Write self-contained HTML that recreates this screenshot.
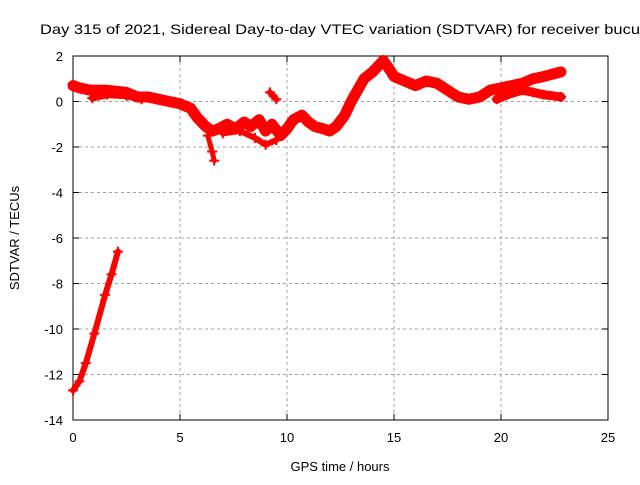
<!DOCTYPE html>
<html><head><meta charset="utf-8"><style>
body{margin:0;background:#fff;width:640px;height:480px;overflow:hidden}
svg{font-family:"Liberation Sans",sans-serif;font-size:13px}
</style></head><body>
<svg id="chart" width="640" height="480">
<text x="40" y="34" font-size="14" textLength="600" lengthAdjust="spacingAndGlyphs">Day 315 of 2021, Sidereal Day-to-day VTEC variation (SDTVAR) for receiver bucu</text>
<text x="340" y="471" text-anchor="middle">GPS time / hours</text>
<text transform="translate(19,238) rotate(-90)" text-anchor="middle">SDTVAR / TECUs</text>
<g id="grid"></g><g id="axes"></g><g id="marks"></g>
</svg>
<script>
const xTicks=[0,5,10,15,20,25];
const yTicks=[2,0,-2,-4,-6,-8,-10,-12,-14];
const trackSteepX=[0,0.3,0.6,1.0,1.5,1.8,2.1];
const trackSteepY=[-12.7,-12.3,-11.5,-10.2,-8.5,-7.6,-6.6];
const trackMainX=[0,0.3,0.8,1.5,2,2.5,3,3.5,4,4.5,5,5.5,5.8,6.2,6.5,6.8,7.2,7.6,8,8.3,8.7,9,9.3,9.7,10,10.3,10.7,11,11.3,11.7,12,12.3,12.7,13,13.3,13.6,14,14.3,14.5,14.8,15,15.5,16,16.5,17,17.5,18,18.5,19,19.5,20,20.5,21,21.5,22,22.8];
const trackMainY=[0.7,0.6,0.5,0.5,0.45,0.4,0.2,0.2,0.1,0,-0.1,-0.3,-0.7,-1.1,-1.3,-1.2,-1.0,-1.2,-0.9,-1.1,-0.8,-1.3,-1.0,-1.5,-1.2,-0.8,-0.6,-0.9,-1.1,-1.2,-1.3,-1.1,-0.6,0,0.5,1.0,1.3,1.6,1.8,1.4,1.1,0.9,0.7,0.9,0.8,0.5,0.2,0.1,0.2,0.5,0.6,0.7,0.8,1.0,1.1,1.3];
const trackLowerX=[19.8,20.3,21,21.5,22,22.8];
const trackLowerY=[0.1,0.3,0.5,0.4,0.3,0.2];
const trackEarlyX=[0.9,1.6,2.5,3.2];
const trackEarlyY=[0.15,0.3,0.25,0.1];
const trackMessX=[7.0,7.8,8.5,9.0,9.5];
const trackMessY=[-1.4,-1.3,-1.6,-1.9,-1.7];
const trackDipX=[6.3,6.5,6.6];
const trackDipY=[-1.5,-2.2,-2.6];
const trackSpurX=[9.2,9.5];
const trackSpurY=[0.4,0.1];

const L=73,R=608,T=56,B=420;
const xs=v=>L+(v-0)/25*(R-L);
const ys=v=>T+(2-v)/16*(B-T);
const NS="http://www.w3.org/2000/svg";
function mk(tag,parent,attrs){const e=document.createElementNS(NS,tag);for(const k in attrs)e.setAttribute(k,attrs[k]);parent.appendChild(e);return e;}
const grid=document.getElementById('grid'),axes=document.getElementById('axes'),marks=document.getElementById('marks');
xTicks.forEach(t=>{
  const x=xs(t);
  if(t>0&&t<25){const g=mk('line',grid,{x1:x,x2:x,y1:T,y2:B,stroke:'#a0a0a0','stroke-dasharray':'3,3'});
  
  }
  mk('line',axes,{x1:x,x2:x,y1:B,y2:B-6,stroke:'#000'});
  mk('line',axes,{x1:x,x2:x,y1:T,y2:T+6,stroke:'#000'});
  const tx=mk('text',axes,{x:x,y:B+22,'text-anchor':'middle'});tx.textContent=t;
  
  
});
yTicks.forEach(t=>{
  const y=ys(t);
  if(t<2&&t>-14){const g=mk('line',grid,{x1:L,x2:R,y1:y,y2:y,stroke:'#a0a0a0','stroke-dasharray':'3,3'});
  
  }
  mk('line',axes,{x1:L,x2:L+6,y1:y,y2:y,stroke:'#000'});
  mk('line',axes,{x1:R,x2:R-6,y1:y,y2:y,stroke:'#000'});
  const tx=mk('text',axes,{x:L-10,y:y+5,'text-anchor':'end'});tx.textContent=t;
  
  
});
const fr=mk('rect',axes,{x:L,y:T,width:R-L,height:B-T,fill:'none',stroke:'#000'});


function track(X,Y,name,w){
  const g=mk('g',marks,{});
  
  
  mk('polyline',g,{points:X.map((x,i)=>xs(x)+','+ys(Y[i])).join(' '),fill:'none',stroke:'#f00','stroke-width':w,'stroke-linejoin':'round','stroke-linecap':'round'});
  X.forEach((x,i)=>{const cx=xs(x),cy=ys(Y[i]);
    mk('path',g,{d:`M${cx-5},${cy}h10M${cx},${cy-5}v10`,stroke:'#f00','stroke-width':2});});
}
track(trackSteepX,trackSteepY,'steep-track',6);
track(trackMainX,trackMainY,'main-track',11);
track(trackLowerX,trackLowerY,'lower-track',9);
track(trackEarlyX,trackEarlyY,'early-track',7);
track(trackMessX,trackMessY,'scatter-track',6);
track(trackDipX,trackDipY,'dip-track',5);
track(trackSpurX,trackSpurY,'spur-track',6);
</script>
</body></html>
